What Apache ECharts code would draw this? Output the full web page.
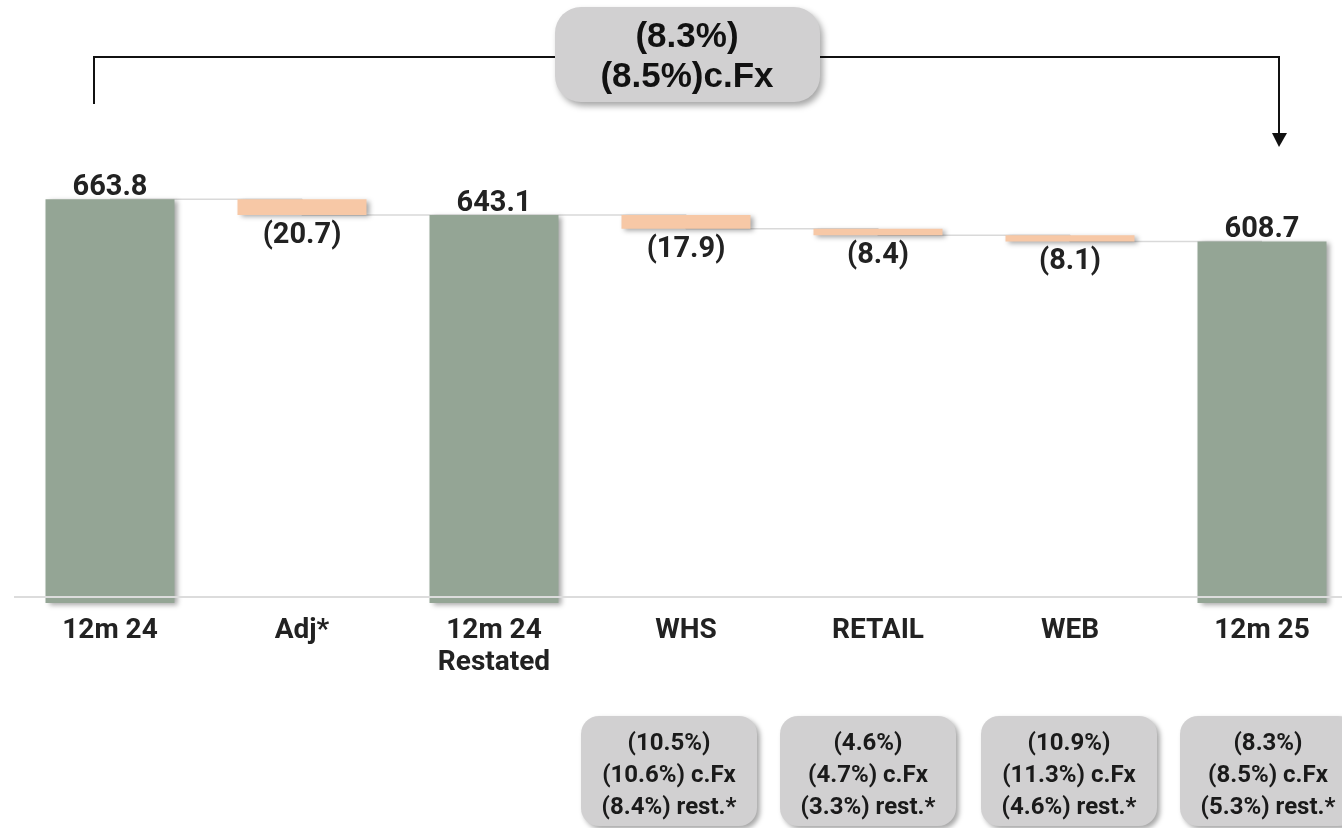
<!DOCTYPE html>
<html>
<head>
<meta charset="utf-8">
<script src="https://cdn.jsdelivr.net/npm/echarts@6/dist/echarts.min.js"></script>
<style>
  html, body { margin: 0; padding: 0; background: #fff; overflow: hidden; }
  #chart { width: 1358px; height: 828px; }
</style>
</head>
<body>
<div id="chart"></div>
<script>
// data
const categories = ['12m 24', 'Adj*', '12m 24\nRestated', 'WHS', 'RETAIL', 'WEB', '12m 25']
const values = [663.8, -20.7, 643.1, -17.9, -8.4, -8.1, 608.7]
const kinds = ['total', 'delta', 'total', 'delta', 'delta', 'delta', 'total']
const totalChange = ['(8.3%)', '(8.5%)c.Fx']
const boxLines = [
  ['(10.5%)', '(10.6%) c.Fx', '(8.4%) rest.*'],
  ['(4.6%)', '(4.7%) c.Fx', '(3.3%) rest.*'],
  ['(10.9%)', '(11.3%) c.Fx', '(4.6%) rest.*'],
  ['(8.3%)', '(8.5%) c.Fx', '(5.3%) rest.*']
]

const GREEN = '#94a595'
const PEACH = '#f7c8a6'
const BOX = '#d1d0d1'

// waterfall: transparent base + visible part, plus the running level for connectors
const base = []
const visible = []
const levels = []
let level = 0
values.forEach((v, i) => {
  if (kinds[i] === 'total') {
    base.push(0)
    visible.push(v)
    level = v
  } else {
    const next = level + v
    base.push(Math.min(level, next))
    visible.push(Math.abs(v))
    level = next
  }
  levels.push(+level.toFixed(1))
})

// the plot runs a little past the right edge of the window, as in the reference
const chart = echarts.init(document.getElementById('chart'))

// annotation boxes under the chart
const boxX = [581, 780, 981, 1180]
const boxes = boxLines.map((lines, i) => ({
  type: 'group',
  children: [
    {
      type: 'rect',
      shape: { x: boxX[i], y: 716, width: 176, height: 110, r: 18 },
      style: { fill: BOX, shadowBlur: 5, shadowColor: 'rgba(0,0,0,0.35)', shadowOffsetX: 3, shadowOffsetY: 3 }
    },
    {
      type: 'text',
      style: {
        text: lines.join('\n'),
        x: boxX[i] + 88,
        y: 776,
        align: 'center',
        verticalAlign: 'middle',
        fontFamily: 'Roboto',
        fontWeight: 'bold',
        fontSize: 24,
        lineHeight: 32,
        fill: '#1a1a1a'
      }
    }
  ]
}))

const option = {
  animation: false,
  grid: { left: 14, top: 150, right: 0, height: 453 },
  xAxis: {
    type: 'category',
    data: categories,
    axisLine: { show: false },
    axisTick: { show: false },
    axisLabel: {
      margin: 12,
      fontFamily: 'Roboto',
      fontWeight: 'bold',
      fontSize: 28,
      lineHeight: 32,
      color: '#222'
    }
  },
  yAxis: {
    type: 'value',
    min: 137,
    max: 728,
    show: false
  },
  series: [
    {
      name: 'level',
      type: 'line',
      step: 'end',
      data: levels,
      symbol: 'none',
      z: 1,
      lineStyle: { color: '#d9d9d9', width: 1.5 }
    },
    {
      name: 'base',
      type: 'bar',
      stack: 'w',
      barWidth: 129,
      z: 2,
      itemStyle: { color: 'transparent' },
      data: base
    },
    {
      name: 'value',
      type: 'bar',
      stack: 'w',
      barWidth: 129,
      z: 3,
      data: visible.map((v, i) => ({
        value: v,
        itemStyle: { color: kinds[i] === 'total' ? GREEN : PEACH },
        label: kinds[i] === 'total'
          ? { position: 'top', distance: -3 }
          : { position: 'bottom', distance: 6 }
      })),
      itemStyle: {
        shadowBlur: 5,
        shadowColor: 'rgba(0,0,0,0.35)',
        shadowOffsetX: 3,
        shadowOffsetY: 2
      },
      label: {
        show: true,
        fontFamily: 'Roboto',
        fontWeight: 'bold',
        fontSize: 29,
        color: '#222',
        formatter: p => kinds[p.dataIndex] === 'total'
          ? values[p.dataIndex].toFixed(1)
          : '(' + Math.abs(values[p.dataIndex]).toFixed(1) + ')'
      },
      markLine: {
        silent: true,
        symbol: 'none',
        label: { show: false },
        lineStyle: { color: '#dcdcdc', width: 2, type: 'solid' },
        data: [{ yAxis: 145 }]
      }
    }
  ],
  graphic: [
    {
      type: 'polyline',
      shape: { points: [[94, 104], [94, 57], [1279, 57], [1279, 136]] },
      style: { stroke: '#111', lineWidth: 2, fill: null }
    },
    {
      type: 'polygon',
      shape: { points: [[1272, 133], [1287, 133], [1279, 147]] },
      style: { fill: '#111' }
    },
    {
      type: 'group',
      children: [
        {
          type: 'rect',
          shape: { x: 555, y: 7, width: 265, height: 95, r: 26 },
          style: { fill: BOX, shadowBlur: 6, shadowColor: 'rgba(0,0,0,0.35)', shadowOffsetX: 3, shadowOffsetY: 4 }
        },
        {
          type: 'text',
          style: {
            text: totalChange.join('\n'),
            x: 687,
            y: 57,
            align: 'center',
            verticalAlign: 'middle',
            fontFamily: 'Liberation Sans',
            fontWeight: 'bold',
            fontSize: 35,
            lineHeight: 40,
            fill: '#111'
          }
        }
      ]
    }
  ].concat(boxes)
}

chart.setOption(option)
</script>
</body>
</html>
